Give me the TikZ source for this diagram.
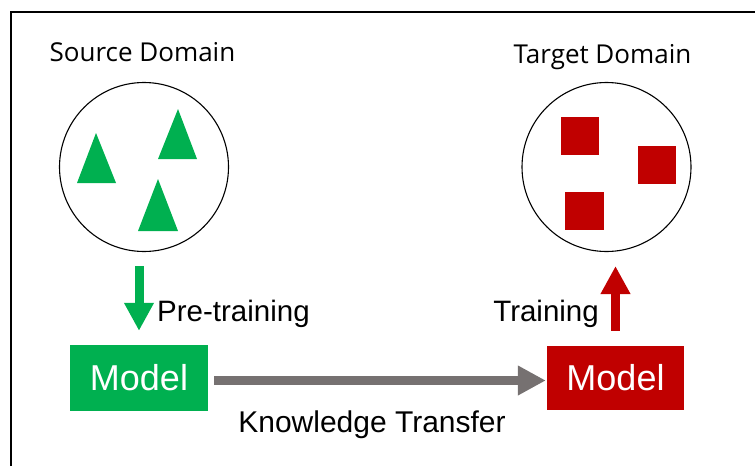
\documentclass[tikz,border=0pt]{standalone}
\usepackage{fontspec}
\setmainfont{Liberation Sans}
\newfontfamily\titlefont{Open Sans}
\usetikzlibrary{arrows.meta}

\definecolor{srcgreen}{HTML}{00B050}
\definecolor{tgtred}{HTML}{C00000}
\definecolor{transgrey}{HTML}{767171}

\tikzset{
  domcircle/.style={draw=black, line width=1.1pt, circle, minimum size=169pt, inner sep=0pt},
  modelbox/.style={rectangle, inner sep=0pt, text=white, font=\fontsize{36}{40}\selectfont},
  fatarrow/.style={line width=9pt, -{Triangle[length=28pt, width=28pt]}},
  labeltxt/.style={font=\fontsize{29.5}{34}\selectfont, inner sep=0pt},
  domtitle/.style={font=\titlefont\fontsize{26}{30}\selectfont, inner sep=0pt}
}

\begin{document}
\begin{tikzpicture}[x=1pt, y=-1pt]
  \useasboundingbox (0,0) rectangle (755,466);
  % Marco
  \draw[black, line width=1.5pt] (11,466) -- (11,12) -- (755,12);

  % Dominios
  \node[domtitle, anchor=base] (srctitle) at (142.5,61) {Source Domain};
  \node[domtitle, anchor=base] (tgttitle) at (602.5,63) {Target Domain};
  \node[domcircle] (srcc) at (144,167) {};
  \node[domcircle] (tgtc) at (606.5,167) {};

  % Triangulos
  \fill[srcgreen] (77,183) -- (96,133) -- (116,183) -- cycle;
  \fill[srcgreen] (158,159) -- (178,109) -- (197,159) -- cycle;
  \fill[srcgreen] (138,231) -- (158,179) -- (178,231) -- cycle;

  % Cuadrados
  \fill[tgtred] (561,117) rectangle (599,155);
  \fill[tgtred] (638,146) rectangle (676,184);
  \fill[tgtred] (565,192) rectangle (604,230);

  % Modelos
  \node[modelbox, fill=srcgreen, minimum width=138pt, minimum height=66pt] (gmodel) at (139,378) {Model};
  \node[modelbox, fill=tgtred, minimum width=137pt, minimum height=64pt] (rmodel) at (615.5,378) {Model};

  % Flechas
  \draw[fatarrow, srcgreen, shorten <=14pt, shorten >=14pt] (gmodel.north |- srcc.south) -- (gmodel.north);
  \draw[fatarrow, tgtred, shorten <=15pt, shorten >=14pt] (rmodel.north) -- (rmodel.north |- tgtc.south);
  \draw[fatarrow, transgrey, shorten <=6pt, shorten >=1pt] (gmodel.east |- 0,380.5) -- (rmodel.west |- 0,380.5);

  % Textos
  \node[labeltxt, anchor=base west] (pretxt) at (157,321) {Pre-training};
  \node[labeltxt, anchor=base east] (traintxt) at (599,321) {Training};
  \node[labeltxt, anchor=base, font=\fontsize{30}{34}\selectfont] (transtxt) at (372,432) {Knowledge Transfer};
\end{tikzpicture}
\end{document}
